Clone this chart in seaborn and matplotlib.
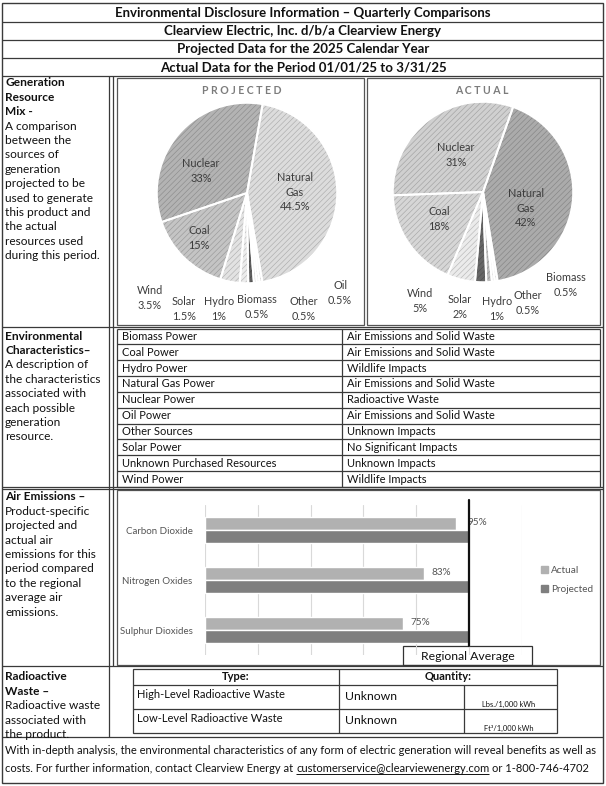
import matplotlib
matplotlib.use("Agg")
import matplotlib.pyplot as plt
from matplotlib.patches import Patch, Rectangle
import seaborn as sns
import pandas as pd

# ---- data ----
proj_sources = ["Natural Gas", "Oil", "Other", "Biomass", "Hydro", "Solar", "Wind", "Coal", "Nuclear"]
proj_values = [44.5, 0.5, 0.5, 0.5, 1, 1.5, 3.5, 15, 33]
act_sources = ["Natural Gas", "Biomass", "Other", "Hydro", "Solar", "Wind", "Coal", "Nuclear"]
act_values = [42, 0.5, 0.5, 1, 2, 5, 18, 31]

pollutants = ["Carbon Dioxide", "Nitrogen Oxides", "Sulphur Dioxides"]
actual_pct = [95, 83, 75]
projected_pct = [100, 100, 100]

resources = ["Biomass Power", "Coal Power", "Hydro Power", "Natural Gas Power", "Nuclear Power",
             "Oil Power", "Other Sources", "Solar Power", "Unknown Purchased Resources", "Wind Power"]
impacts = ["Air Emissions and Solid Waste", "Air Emissions and Solid Waste", "Wildlife Impacts",
           "Air Emissions and Solid Waste", "Radioactive Waste", "Air Emissions and Solid Waste",
           "Unknown Impacts", "No Significant Impacts", "Unknown Impacts", "Wildlife Impacts"]

waste_types = ["High-Level Radioactive Waste", "Low-Level Radioactive Waste"]
waste_qty = ["Unknown", "Unknown"]
waste_units = ["Lbs./1,000 kWh", "Ft\u00b3/1,000 kWh"]

header_lines = ["Environmental Disclosure Information \u2013 Quarterly Comparisons",
                "Clearview Electric, Inc. d/b/a Clearview Energy",
                "Projected Data for the 2025 Calendar Year",
                "Actual Data for the Period 01/01/25 to 3/31/25"]

# ---- styling ----
sns.set_theme(style="white")
plt.rcParams["font.family"] = ["Lato", "DejaVu Sans"]
plt.rcParams["hatch.linewidth"] = 0.45

W, H = 606, 786
LINE = "#3a3a3a"
TXT = "#111111"
BODY = 8.05
LEFT = 8.6
TABLE = 8.0


def box(x0, y0, x1, y1):
    return [x0 / W, 1 - y1 / H, (x1 - x0) / W, (y1 - y0) / H]


fig = plt.figure(figsize=(W / 100, H / 100), dpi=100)
bg = fig.add_axes([0, 0, 1, 1])
bg.set_xlim(0, W)
bg.set_ylim(H, 0)
bg.axis("off")


def hline(y, x0=2, x1=603, lw=0.9, c=LINE):
    bg.plot([x0, x1], [y, y], color=c, lw=lw, solid_capstyle="butt")


def vline(x, y0, y1, lw=0.9, c=LINE):
    bg.plot([x, x], [y0, y1], color=c, lw=lw, solid_capstyle="butt")


def rect(x0, y0, x1, y1, lw=0.9, c=LINE):
    bg.add_patch(Rectangle((x0, y0), x1 - x0, y1 - y0, fill=False, ec=c, lw=lw))


# outer frame and header
rect(2, 3, 603, 783, lw=1.0)
for y in [22, 40, 58, 76]:
    hline(y)
for i, t in enumerate(header_lines):
    bg.text(303, 13 + i * 18, t, ha="center", va="center", fontsize=9.5,
            fontweight="bold", color=TXT)

# section separators
hline(327)
hline(486.5)
hline(489)
hline(666)
hline(737)
vline(109, 76, 737)
vline(113, 76, 666)

# left column descriptions
left_text = [
    (83, ["Generation", "Resource", "Mix -"],
     ["A comparison", "between the", "sources of", "generation", "projected to be",
      "used to generate", "this product and", "the actual", "resources used",
      "during this period."]),
    (336, ["Environmental", "Characteristics\u2013"],
     ["A description of", "the characteristics", "associated with", "each possible",
      "generation", "resource."]),
    (497, ["Air Emissions \u2013"],
     ["Product-specific", "projected and", "actual air", "emissions for this",
      "period compared", "to the regional", "average air", "emissions."]),
    (677, ["Radioactive", "Waste \u2013"],
     ["Radioactive waste", "associated with", "the product."]),
]
for y0, bold, regular in left_text:
    for j, t in enumerate(bold + regular):
        bg.text(5, y0 + j * 14.4, t, ha="left", va="center", fontsize=LEFT,
                fontweight="bold" if j < len(bold) else "normal", color=TXT)

# ---- pies ----
rect(117, 78, 364, 325, c="#555555")
rect(367, 78, 600, 325, c="#555555")
bg.text(242, 90, "P R O J E C T E D", ha="center", va="center", fontsize=7.6,
        fontweight="bold", color="#7c7c7c")
bg.text(482, 90, "A C T U A L", ha="center", va="center", fontsize=7.6,
        fontweight="bold", color="#7c7c7c")

proj_face = {"Natural Gas": "#dcdcdc", "Oil": "#e6e6e6", "Other": "#f2f2f2", "Biomass": "#d0d0d0",
             "Hydro": "#5e5e5e", "Solar": "#ececec", "Wind": "#e2e2e2", "Coal": "#c4c4c4",
             "Nuclear": "#b3b3b3"}
act_face = {"Natural Gas": "#ababab", "Biomass": "#f0f0f0", "Other": "#e6e6e6", "Hydro": "#bdbdbd",
            "Solar": "#666666", "Wind": "#ebebeb", "Coal": "#d6d6d6", "Nuclear": "#d0d0d0"}


def darker(hexc, f=0.78):
    r, g, b = matplotlib.colors.to_rgb(hexc)
    return (r * f, g * f, b * f)


def draw_pie(cx, cy, r, sources, values, face, start):
    ax = fig.add_axes(box(cx - r, cy - r, cx + r, cy + r))
    cols = [face[s] for s in sources]
    wedges, _ = ax.pie(values, colors=cols, startangle=start, counterclock=False,
                       wedgeprops=dict(hatch="//////", linewidth=0))
    for w, c in zip(wedges, cols):
        w.set_edgecolor(darker(c))
        w.set_linewidth(0)
    ax.pie(values, colors=["none"] * len(values), startangle=start, counterclock=False,
           wedgeprops=dict(fill=False, edgecolor="white", linewidth=1.4))
    ax.set_xlim(-1.02, 1.02)
    ax.set_ylim(-1.02, 1.02)
    ax.axis("off")


draw_pie(247, 193, 92, proj_sources, proj_values, proj_face, 80)
draw_pie(483, 192, 92, act_sources, act_values, act_face, 70.5)

# ---- environmental characteristics table ----
row_h = (487 - 328.5) / len(resources)
for i in range(len(resources) + 1):
    hline(328.5 + i * row_h, 117, 600)
vline(117, 328.5, 487)
vline(342, 328.5, 487)
vline(600, 328.5, 487)
for i, (res, imp) in enumerate(zip(resources, impacts)):
    yc = 328.5 + (i + 0.5) * row_h
    bg.text(122, yc, res, ha="left", va="center", fontsize=TABLE, color=TXT)
    bg.text(347, yc, imp, ha="left", va="center", fontsize=TABLE, color=TXT)

# ---- air emissions bar chart ----
rect(117, 490, 600, 665, c="#555555")
emis = pd.DataFrame({
    "Pollutant": pollutants * 2,
    "Series": ["Actual"] * len(pollutants) + ["Projected"] * len(pollutants),
    "Value": actual_pct + projected_pct,
})
ax_bar = fig.add_axes(box(205, 505, 522, 655))
ax_bar.patch.set_alpha(0)
sns.barplot(data=emis, x="Value", y="Pollutant", hue="Series",
            hue_order=["Actual", "Projected"], palette=["#b1b1b1", "#7f7f7f"],
            width=0.52, saturation=1, legend=False, ax=ax_bar, zorder=3)
ax_bar.set_xlim(0, 120)
ax_bar.set_ylim(2.5, -0.5)
ax_bar.set_xticks(range(0, 121, 20))
ax_bar.grid(axis="x", color="#d9d9d9", lw=0.8, zorder=0)
ax_bar.set_axisbelow(True)
ax_bar.tick_params(axis="x", length=0, labelbottom=False)
ax_bar.tick_params(axis="y", length=0, pad=9, labelsize=7.0, labelcolor="#555555")
ax_bar.set_xlabel("")
ax_bar.set_ylabel("")
for sp in ax_bar.spines.values():
    sp.set_visible(False)
# regional average line
ax_bar.plot([100, 100], [2.32, -0.6], color="#111111", lw=1.6, clip_on=False, zorder=4)
label_offsets = [12, 7, 7]
for i, (v, off) in enumerate(zip(actual_pct, label_offsets)):
    ax_bar.annotate(f"{v}%", xy=(v, i - 0.13), xytext=(off, 1), textcoords="offset pixels",
                    ha="left", va="center", fontsize=7.2, color="#555555")
ax_bar.legend(handles=[Patch(color="#b1b1b1"), Patch(color="#7f7f7f")],
              labels=["Actual", "Projected"], loc="center left",
              bbox_to_anchor=(541 / W, 1 - 580 / H), bbox_transform=fig.transFigure,
              frameon=False, fontsize=7.2, labelcolor="#555555", handlelength=0.7,
              handleheight=0.7, handletextpad=0.3, labelspacing=1.05,
              borderaxespad=0, borderpad=0)
rect(403, 646, 532, 665, c="#333333")
bg.text(467.5, 657, "Regional Average", ha="center", va="center", fontsize=8.8, color=TXT)

# ---- radioactive waste table ----
rect(133, 669, 557, 733)
hline(685, 133, 557)
hline(709, 133, 557)
vline(339, 669, 733)
vline(464, 685, 733)
bg.text(236, 677, "Type:", ha="center", va="center", fontsize=TABLE, fontweight="bold", color=TXT)
bg.text(448, 677, "Quantity:", ha="center", va="center", fontsize=TABLE, fontweight="bold", color=TXT)
for i, (t, q, u) in enumerate(zip(waste_types, waste_qty, waste_units)):
    y0 = 685 + i * 24
    bg.text(137, y0 + 9, t, ha="left", va="center", fontsize=TABLE, color=TXT)
    bg.text(345, y0 + 11, q, ha="left", va="center", fontsize=8.8, color=TXT)
    bg.text(509, y0 + 19, u, ha="center", va="center", fontsize=5.4, color=TXT)

# ---- pie labels on a top overlay ----
top = fig.add_axes([0, 0, 1, 1])
top.set_xlim(0, W)
top.set_ylim(H, 0)
top.axis("off")
proj_label_pos = {"Nuclear": (201, 171), "Natural Gas": (295, 192), "Coal": (199, 238),
                  "Wind": (150, 298), "Solar": (184, 309), "Hydro": (219, 309),
                  "Biomass": (257, 307), "Other": (304, 309), "Oil": (340, 293)}
act_label_pos = {"Nuclear": (456, 155), "Natural Gas": (526, 208), "Coal": (439, 219),
                 "Wind": (420, 301), "Solar": (460, 307), "Hydro": (497, 309),
                 "Other": (528, 303), "Biomass": (566, 285)}
for sources, values, pos in [(proj_sources, proj_values, proj_label_pos),
                             (act_sources, act_values, act_label_pos)]:
    for s, v in zip(sources, values):
        name = "Natural\nGas" if s == "Natural Gas" else s
        top.text(pos[s][0], pos[s][1], f"{name}\n{v:g}%", ha="center", va="center",
                 fontsize=7.8, color="#3c3c3c", linespacing=1.35)

# ---- footer ----
bg.text(5, 751, "With in-depth analysis, the environmental characteristics of any form of electric "
        "generation will reveal benefits as well as", ha="left", va="center", fontsize=BODY, color=TXT)
t1 = bg.text(5, 768, "costs. For further information, contact Clearview Energy at",
             ha="left", va="center", fontsize=BODY, color=TXT)
fig.canvas.draw()
r = fig.canvas.get_renderer()
x_mail = t1.get_window_extent(r).x1 + 3
t2 = bg.text(x_mail, 768, "customerservice@clearviewenergy.com", ha="left", va="center",
             fontsize=BODY, color=TXT)
fig.canvas.draw()
bb = t2.get_window_extent(r)
hline(774, bb.x0, bb.x1, lw=0.7, c=TXT)
bg.text(bb.x1 + 3, 768, "or 1-800-746-4702", ha="left", va="center", fontsize=BODY, color=TXT)

fig.savefig("out.png", dpi=100)
